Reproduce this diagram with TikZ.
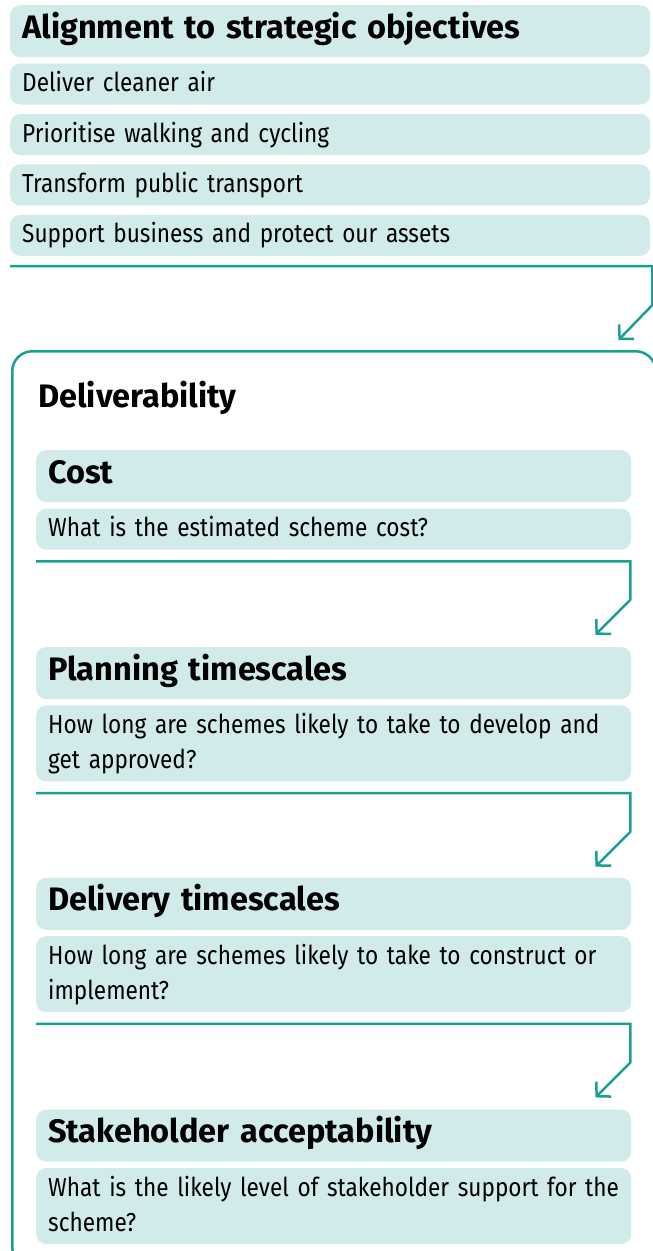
\documentclass[tikz,border=0pt]{standalone}
\usepackage{fontspec}
\setmainfont{Fira Sans}[FakeStretch=0.87, BoldFeatures={FakeStretch=1.0}]
\usepackage{tikz}
\usetikzlibrary{positioning, arrows.meta}
\definecolor{cT}{RGB}{26,160,146}
\definecolor{cL}{RGB}{208,235,233}

\begin{document}
\begin{tikzpicture}[x=1pt, y=-1pt,
head/.style={rectangle, fill = cL, rounded corners=10pt, minimum height=52pt, inner xsep=12pt, inner ysep=0pt, text width=616pt, align=left, font=\fontsize{32.5}{38}\selectfont\bfseries, text height=22pt, text depth=8pt},
item/.style={head, minimum height=41pt, font=\fontsize{26}{35}\selectfont, text height=20pt, text depth=5pt},
ihead/.style={head, text width=571pt},
quest/.style={item, text width=571pt},
quest2/.style={quest, minimum height=76pt, text depth=40pt},
title/.style={anchor=base west, inner sep=0pt, font=\fontsize{32.5}{38}\selectfont\bfseries},
frame/.style={draw=cT, line width=2.5pt, rounded corners=20pt, minimum width=643.5pt, minimum height=916pt, inner sep=0pt},
flow/.style={draw=cT, line width=2.5pt, line join=miter, -{Straight Barb[length=10pt, width=21pt]}}]

\clip (0,0) rectangle (653,1251);

\node[head, anchor=north west] (A0) at (10,5) {Alignment to strategic objectives};
\node[item, below = 6pt of A0] (A1) {Deliver cleaner air};
\node[item, below = 9pt of A1] (A2) {Prioritise walking and cycling};
\node[item, below = 9pt of A2] (A3) {Transform public transport};
\node[item, below = 9pt of A3] (A4) {Support business and protect our assets};

\draw[flow] ([yshift=-10pt]A4.south west) -| ([xshift=2pt, yshift=-49pt]A4.south east) -- ++(-34,35);

\node[frame, anchor=north west] (F) at (11,350) {};
\node[title] (D) at (38,407) {Deliverability};

\node[ihead, anchor=north west] (C0) at (36,450) {Cost};
\node[quest, below = 6pt of C0] (C1) {What is the estimated scheme cost?};

\node[ihead, below = 97pt of C1] (P0) {Planning timescales};
\node[quest2, below = 6pt of P0] (P1) {How long are schemes likely to take to develop and\\ get approved?};

\node[ihead, below = 96pt of P1] (E0) {Delivery timescales};
\node[quest2, below = 6pt of E0] (E1) {How long are schemes likely to take to construct or\\ implement?};

\node[ihead, below = 97pt of E1] (S0) {Stakeholder acceptability};
\node[quest2, below = 6pt of S0] (S1) {What is the likely level of stakeholder support for the\\ scheme?};

\foreach \q in {C1,P1,E1} {
	\draw[flow] ([yshift=-11.5pt]\q.south west) -| ([xshift=-1pt, yshift=-50pt]\q.south east) -- ++(-35,35);
}
\end{tikzpicture}
\end{document}
